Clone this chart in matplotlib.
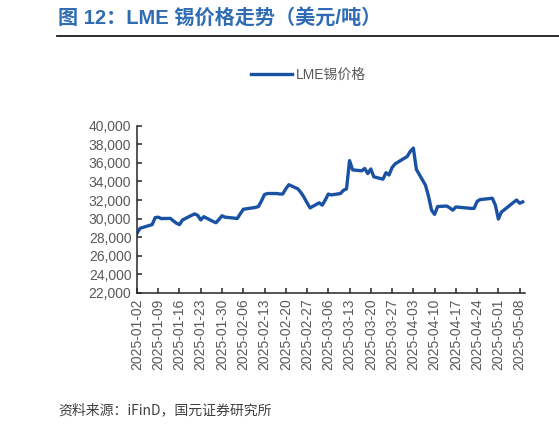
import numpy as np
import pandas as pnd
import matplotlib
matplotlib.use('Agg')
import matplotlib.pyplot as plt
import matplotlib.dates as mdates
from matplotlib.lines import Line2D

plt.rcParams['font.family'] = ['Liberation Sans', 'Noto Sans CJK SC', 'DejaVu Sans']

# LME 锡价格（美元/吨），按交易日
dates = [
    '2025-01-02', '2025-01-03', '2025-01-06', '2025-01-07', '2025-01-08', '2025-01-09', '2025-01-10',
    '2025-01-13', '2025-01-14', '2025-01-15', '2025-01-16', '2025-01-17',
    '2025-01-20', '2025-01-21', '2025-01-22', '2025-01-23', '2025-01-24',
    '2025-01-27', '2025-01-28', '2025-01-29', '2025-01-30', '2025-01-31',
    '2025-02-03', '2025-02-04', '2025-02-05', '2025-02-06', '2025-02-07',
    '2025-02-10', '2025-02-11', '2025-02-12', '2025-02-13', '2025-02-14',
    '2025-02-17', '2025-02-18', '2025-02-19', '2025-02-20', '2025-02-21',
    '2025-02-24', '2025-02-25', '2025-02-26', '2025-02-27', '2025-02-28',
    '2025-03-03', '2025-03-04', '2025-03-05', '2025-03-06', '2025-03-07',
    '2025-03-10', '2025-03-11', '2025-03-12', '2025-03-13', '2025-03-14',
    '2025-03-17', '2025-03-18', '2025-03-19', '2025-03-20', '2025-03-21',
    '2025-03-24', '2025-03-25', '2025-03-26', '2025-03-27', '2025-03-28',
    '2025-03-31', '2025-04-01', '2025-04-02', '2025-04-03', '2025-04-04',
    '2025-04-07', '2025-04-08', '2025-04-09', '2025-04-10', '2025-04-11',
    '2025-04-14', '2025-04-15', '2025-04-16', '2025-04-17',
    '2025-04-22', '2025-04-23', '2025-04-24', '2025-04-25',
    '2025-04-28', '2025-04-29', '2025-04-30', '2025-05-01', '2025-05-02',
    '2025-05-06', '2025-05-07', '2025-05-08', '2025-05-09',
]
prices = [
    28400, 28950, 29250, 29350, 30100, 30150, 30000,
    30020, 29750, 29500, 29350, 29850,
    30350, 30500, 30350, 29850, 30200,
    29700, 29550, 29900, 30300, 30150,
    30050, 30000, 30500, 31000, 31050,
    31200, 31300, 31900, 32600, 32700,
    32700, 32650, 32650, 33200, 33650,
    33200, 32800, 32300, 31700, 31150,
    31700, 31450, 32000, 32640, 32550,
    32700, 33050, 33200, 36250, 35250,
    35150, 35400, 34850, 35350, 34500,
    34250, 34950, 34700, 35500, 35900,
    36500, 36700, 37250, 37600, 35300,
    33600, 32400, 30900, 30450, 31300,
    31350, 31150, 30900, 31250,
    31100, 31100, 31850, 32050,
    32150, 32200, 31450, 29950, 30700,
    31750, 32000, 31650, 31800,
]
tick_dates = pnd.date_range('2025-01-02', '2025-05-08', freq='7D')
y_ticks = np.arange(22000, 40001, 2000)

title = '图 12：LME 锡价格走势（美元/吨）'
series_name = 'LME锡价格'
source = '资料来源：iFinD，国元证券研究所'

x = pnd.to_datetime(dates)

fig = plt.figure(figsize=(5.59, 4.28), dpi=100)
ax = fig.add_axes([0.245, 0.316, 0.695, 0.390])

ax.plot(x, prices, color='#1A52A3', linewidth=2.4, solid_joinstyle='round', label=series_name)

ax.set_ylim(22000, 40000)
ax.set_yticks(y_ticks)
ax.yaxis.set_major_formatter(matplotlib.ticker.FuncFormatter(lambda v, p: f'{int(v):,}'))
ax.set_xlim(pnd.Timestamp('2025-01-02'), pnd.Timestamp('2025-05-09 22:00'))
ax.set_xticks(tick_dates)
ax.xaxis.set_major_formatter(mdates.DateFormatter('%Y-%m-%d'))
plt.setp(ax.get_xticklabels(), rotation=90)

for side in ['top', 'right']:
    ax.spines[side].set_visible(False)
for side in ['left', 'bottom']:
    ax.spines[side].set_color('#262626')
    ax.spines[side].set_linewidth(1.1)
ax.tick_params(axis='both', direction='in', length=3.5, width=1.1, color='#262626',
               labelsize=10, labelcolor='#595959', pad=4)

fig.legend(loc='center', bbox_to_anchor=(0.552, 0.825), frameon=False, fontsize=10,
           handlelength=2.9, handletextpad=0.3, labelcolor='#595959')

fig.text(0.104, 0.958, title, fontsize=14.5, fontweight='bold', color='#2F6CB3', va='center')
fig.add_artist(Line2D([0.102, 1.0], [0.916, 0.916], color='#1a1a1a', linewidth=1.3))
fig.text(0.104, 0.042, source, fontsize=10, color='#404040', va='center',
         family=['Noto Sans CJK SC', 'DejaVu Sans'])

fig.savefig('out.png', dpi=100)
